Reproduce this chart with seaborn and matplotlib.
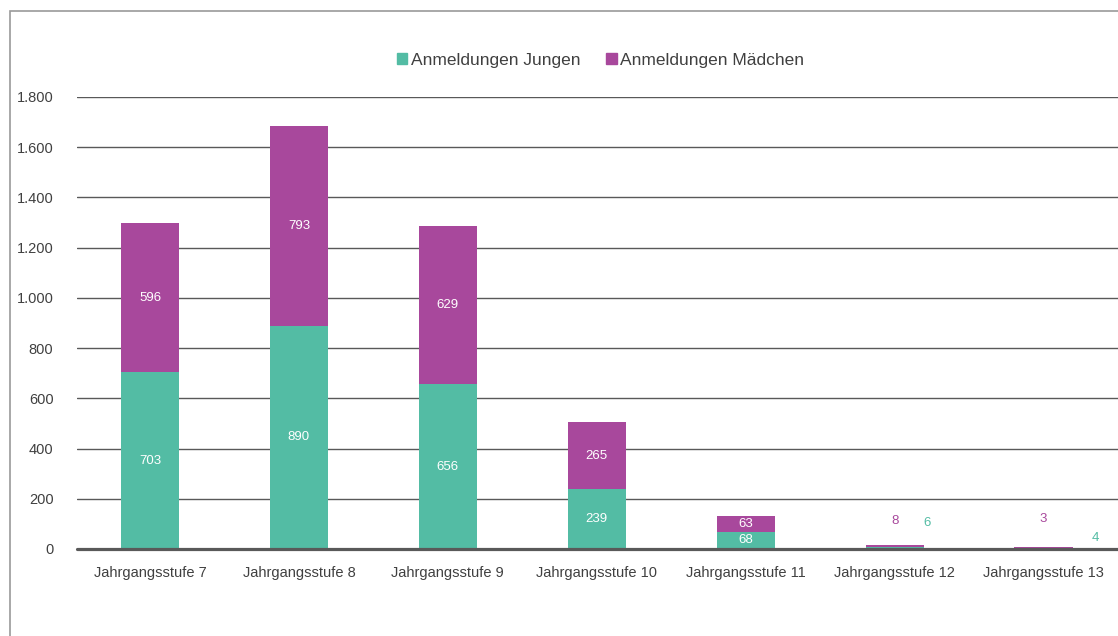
import matplotlib
matplotlib.use("Agg")
import matplotlib.pyplot as plt
import seaborn as sns
import numpy as np
import pandas as pd
from matplotlib.patches import Patch, Rectangle

stufen = ["Jahrgangsstufe 7", "Jahrgangsstufe 8", "Jahrgangsstufe 9", "Jahrgangsstufe 10",
          "Jahrgangsstufe 11", "Jahrgangsstufe 12", "Jahrgangsstufe 13"]
jungen = [703, 890, 656, 239, 68, 6, 4]
maedchen = [596, 793, 629, 265, 63, 8, 3]
y_ticks = [0, 200, 400, 600, 800, 1000, 1200, 1400, 1600, 1800]

TEAL = "#53BCA4"
MAGENTA = "#A8489C"
GRID = "#595959"
TXT = "#404040"

sns.set_style("white")
plt.rcParams["font.family"] = ["Liberation Sans", "DejaVu Sans"]

df = pd.DataFrame({"stufe": stufen, "jungen": jungen, "maedchen": maedchen})
df["gesamt"] = df["jungen"] + df["maedchen"]

fig = plt.figure(figsize=(11.18, 6.36), dpi=100)
ax = fig.add_axes([77 / 1118, 1 - 549 / 636, 1 - 77 / 1118, (549 - 97) / 636])

# frame around the chart area
fig.patches.append(Rectangle((10 / 1118, -0.1), 1.2, 1 - 11 / 636 + 0.1, transform=fig.transFigure,
                             fill=False, edgecolor="#9a9a9a", linewidth=1.2))

sns.barplot(data=df, x="stufe", y="gesamt", color=MAGENTA, width=0.39, saturation=1, ax=ax,
            zorder=3, linewidth=0)
sns.barplot(data=df, x="stufe", y="jungen", color=TEAL, width=0.39, saturation=1, ax=ax,
            zorder=3, linewidth=0)

ax.set_ylim(0, 1800)
ax.set_xlim(-0.49, 6.5)
ax.set_yticks(y_ticks)
ax.set_yticklabels([f"{v:,}".replace(",", ".") for v in y_ticks])
ax.yaxis.grid(True, color=GRID, linewidth=1.0, zorder=0)
ax.axhline(0, color=GRID, linewidth=2.3, zorder=4, clip_on=False)
ax.set_xlabel("")
ax.set_ylabel("")
for s in ax.spines.values():
    s.set_visible(False)
ax.tick_params(axis="y", length=0, pad=17, labelsize=10.5, labelcolor=TXT)
ax.tick_params(axis="x", length=0, pad=12, labelsize=10.5, labelcolor=TXT)

# data labels
for i, (j, m) in enumerate(zip(jungen, maedchen)):
    if j + m > 50:
        ax.text(i, j / 2, str(j), ha="center", va="center", color="white", fontsize=9.5, zorder=5)
        ax.text(i, j + m / 2, str(m), ha="center", va="center", color="white", fontsize=9.5, zorder=5)
# small bars: labels outside
ax.text(5, 112, str(maedchen[5]), ha="center", va="center", color=MAGENTA, fontsize=9.5)
ax.text(5.215, 104, str(jungen[5]), ha="center", va="center", color=TEAL, fontsize=9.5)
ax.text(6, 118, str(maedchen[6]), ha="center", va="center", color=MAGENTA, fontsize=9.5)
ax.text(6.35, 42, str(jungen[6]), ha="center", va="center", color=TEAL, fontsize=9.5)

handles = [Patch(color=TEAL, label="Anmeldungen Jungen"), Patch(color=MAGENTA, label="Anmeldungen Mädchen")]
fig.legend(handles=handles, loc="center", bbox_to_anchor=(0.537, 1 - 60 / 636), ncol=2, frameon=False,
           fontsize=12.5, handlelength=0.6, handleheight=0.6, handletextpad=0.2, columnspacing=1.5,
           labelcolor=TXT)

fig.savefig("out.png", dpi=100)
